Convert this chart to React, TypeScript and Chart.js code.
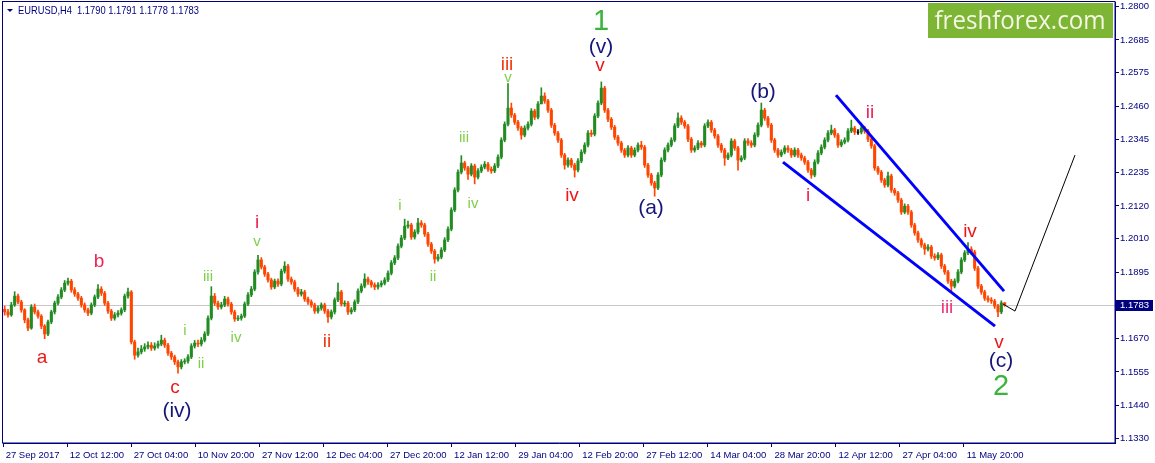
import { useEffect, useRef } from 'react'
import Chart from 'chart.js/auto'

// EURUSD H4, one bar per ~3.3px of the original screenshot
const firstOpen = 1.1768
const closes = [
  1.1759, 1.1749, 1.1783, 1.1813, 1.1793, 1.1766, 1.1732, 1.1704, 1.1776, 1.1759,
  1.1745, 1.1711, 1.1684, 1.1725, 1.1759, 1.1789, 1.181, 1.1834, 1.1857, 1.1864,
  1.1834, 1.182, 1.1806, 1.1783, 1.1766, 1.1755, 1.1783, 1.181, 1.1837, 1.1823,
  1.1789, 1.1762, 1.1738, 1.1749, 1.1755, 1.1766, 1.1813, 1.1827, 1.1657, 1.1612,
  1.1623, 1.1633, 1.164, 1.1646, 1.1636, 1.1643, 1.165, 1.1663, 1.1646, 1.1619,
  1.1606, 1.1589, 1.1572, 1.1589, 1.1592, 1.1606, 1.1643, 1.1653, 1.165, 1.1663,
  1.1684, 1.1738, 1.1813, 1.1789, 1.1776, 1.1783, 1.1803, 1.1786, 1.1759, 1.1735,
  1.1738, 1.1745, 1.1786, 1.1817, 1.1837, 1.1895, 1.1936, 1.1912, 1.1888, 1.1868,
  1.1844, 1.1864, 1.1854, 1.1898, 1.1915, 1.1871, 1.1861, 1.1837, 1.182, 1.1827,
  1.1803, 1.1793, 1.1783, 1.1762, 1.1772, 1.1783, 1.1762, 1.1742, 1.1759, 1.18,
  1.1827, 1.1786, 1.1789, 1.1759, 1.1766, 1.1793, 1.183, 1.1847, 1.1871, 1.1861,
  1.1851, 1.1844, 1.1851, 1.1857, 1.1868, 1.1891, 1.1926, 1.1943, 1.1983, 1.2011,
  1.2051, 1.2055, 1.2014, 1.2031, 1.2062, 1.2055, 1.2024, 1.199, 1.1966, 1.1939,
  1.1946, 1.197, 1.2004, 1.2041, 1.2106, 1.2174, 1.2235, 1.2266, 1.2249, 1.2228,
  1.2256, 1.2218, 1.2239, 1.2252, 1.2262, 1.2245, 1.2239, 1.2256, 1.2286, 1.2344,
  1.2398, 1.2453, 1.2429, 1.2405, 1.2385, 1.2361, 1.2385, 1.2398, 1.2443, 1.2422,
  1.2467, 1.2494, 1.2477, 1.2446, 1.2395, 1.2368, 1.2344, 1.2293, 1.2259, 1.2276,
  1.2259, 1.2242, 1.2273, 1.2303, 1.2327, 1.2368, 1.2364, 1.2426, 1.247, 1.2521,
  1.2446, 1.2415, 1.2388, 1.2354, 1.2334, 1.231, 1.2293, 1.2317, 1.2293, 1.231,
  1.2327, 1.232, 1.2259, 1.2225, 1.2198, 1.2181, 1.2225, 1.2276, 1.231, 1.2327,
  1.2344, 1.2392, 1.2419, 1.2405, 1.2392, 1.2347, 1.231, 1.2317, 1.2334, 1.2327,
  1.2392, 1.2405, 1.2378, 1.2358, 1.2327, 1.231, 1.2283, 1.2293, 1.2341, 1.2317,
  1.2276, 1.2283, 1.2341, 1.2334, 1.2327, 1.2361, 1.2395, 1.2446, 1.2419, 1.2395,
  1.2344, 1.231, 1.2293, 1.2303, 1.2317, 1.231, 1.2293, 1.231, 1.2293, 1.2283,
  1.2269, 1.2242, 1.2225, 1.2269, 1.23, 1.232, 1.2344, 1.2368, 1.2378, 1.2361,
  1.2327, 1.2337, 1.2344, 1.2375, 1.2385, 1.2371, 1.2371, 1.2385, 1.2375, 1.2347,
  1.2324, 1.2249, 1.2235, 1.2208, 1.2191, 1.2222, 1.2174, 1.2164, 1.214, 1.2099,
  1.2119, 1.2099, 1.2055, 1.2028, 1.2004, 1.1987, 1.1973, 1.198, 1.1949, 1.1943,
  1.1953, 1.1915, 1.1895, 1.1864, 1.1847, 1.1864, 1.1895, 1.1936, 1.196, 1.1973,
  1.1963, 1.1908, 1.1847, 1.1827, 1.1806, 1.18, 1.1796, 1.1779, 1.1759, 1.179,
  1.1783,
]
const highs = [
  1.1779, 1.1768, 1.1792, 1.1828, 1.182, 1.1799, 1.177, 1.1738, 1.1784, 1.1786,
  1.1765, 1.175, 1.1716, 1.1731, 1.1765, 1.1796, 1.1818, 1.1842, 1.1866, 1.1874,
  1.187, 1.1842, 1.1826, 1.1812, 1.179, 1.1772, 1.179, 1.1817, 1.1852, 1.1845,
  1.1829, 1.1795, 1.1768, 1.1757, 1.1764, 1.1773, 1.182, 1.184, 1.1832, 1.1663,
  1.1636, 1.1645, 1.1651, 1.1657, 1.1655, 1.1654, 1.166, 1.168, 1.167, 1.1652,
  1.1625, 1.1612, 1.1595, 1.1597, 1.16, 1.1614, 1.1651, 1.1662, 1.1663, 1.1672,
  1.1692, 1.1746, 1.1845, 1.1822, 1.1796, 1.1792, 1.1812, 1.181, 1.1792, 1.1765,
  1.1747, 1.1752, 1.1793, 1.1825, 1.1846, 1.1903, 1.1952, 1.1944, 1.1918, 1.1894,
  1.1874, 1.1871, 1.1872, 1.1905, 1.193, 1.1921, 1.1878, 1.1867, 1.1843, 1.1836,
  1.1833, 1.181, 1.18, 1.1789, 1.178, 1.179, 1.1789, 1.1768, 1.1766, 1.1807,
  1.1857, 1.1833, 1.1797, 1.1795, 1.1774, 1.18, 1.1838, 1.1855, 1.1889, 1.1878,
  1.1867, 1.1858, 1.1859, 1.1865, 1.1876, 1.1899, 1.1934, 1.1951, 1.1991, 1.202,
  1.2075, 1.2068, 1.2061, 1.2039, 1.2078, 1.207, 1.2061, 1.203, 1.1996, 1.1972,
  1.1955, 1.1978, 1.2012, 1.2049, 1.2114, 1.2182, 1.2243, 1.2291, 1.2272, 1.2255,
  1.2264, 1.2262, 1.2247, 1.226, 1.2271, 1.2268, 1.2253, 1.2264, 1.2294, 1.2352,
  1.2406, 1.2536, 1.247, 1.2435, 1.2411, 1.2391, 1.2393, 1.2406, 1.2451, 1.2449,
  1.2475, 1.2522, 1.2505, 1.2483, 1.2452, 1.2401, 1.2374, 1.235, 1.2299, 1.2284,
  1.2282, 1.2265, 1.2281, 1.2311, 1.2335, 1.2376, 1.2378, 1.2434, 1.2478, 1.2542,
  1.2527, 1.2452, 1.2421, 1.2394, 1.236, 1.234, 1.2316, 1.2325, 1.2323, 1.2318,
  1.2335, 1.234, 1.2326, 1.2265, 1.2231, 1.2204, 1.2233, 1.2284, 1.2318, 1.2335,
  1.2352, 1.24, 1.2437, 1.2427, 1.2411, 1.2398, 1.2353, 1.2325, 1.2342, 1.234,
  1.24, 1.2413, 1.2411, 1.2384, 1.2364, 1.2333, 1.2316, 1.2301, 1.2349, 1.2347,
  1.2323, 1.2291, 1.2349, 1.2349, 1.2342, 1.2369, 1.2403, 1.247, 1.2452, 1.2425,
  1.2401, 1.235, 1.2316, 1.2311, 1.2325, 1.2325, 1.2316, 1.2318, 1.2316, 1.23,
  1.2289, 1.2275, 1.2248, 1.2277, 1.2308, 1.2328, 1.2352, 1.2376, 1.2395, 1.2384,
  1.2367, 1.2345, 1.2352, 1.2383, 1.2412, 1.2391, 1.238, 1.2402, 1.2391, 1.2381,
  1.2353, 1.233, 1.2255, 1.2241, 1.2214, 1.2235, 1.2228, 1.218, 1.217, 1.2146,
  1.2127, 1.2125, 1.2105, 1.2061, 1.2034, 1.201, 1.1993, 1.1988, 1.1986, 1.1957,
  1.1961, 1.1959, 1.1921, 1.1901, 1.187, 1.1872, 1.1903, 1.1944, 1.1968, 1.1995,
  1.1981, 1.1969, 1.1914, 1.1853, 1.1833, 1.1814, 1.1808, 1.1802, 1.1785, 1.1797,
  1.1791,
]
const lows = [
  1.1748, 1.1741, 1.1744, 1.1778, 1.1786, 1.1758, 1.1722, 1.1695, 1.17, 1.1752,
  1.1738, 1.1702, 1.1668, 1.1678, 1.1719, 1.1752, 1.1783, 1.1804, 1.1828, 1.185,
  1.1826, 1.1812, 1.1798, 1.1775, 1.1758, 1.1746, 1.1749, 1.1777, 1.1804, 1.1815,
  1.1781, 1.1754, 1.173, 1.1731, 1.1742, 1.1748, 1.176, 1.1806, 1.165, 1.1598,
  1.1605, 1.1616, 1.1625, 1.1633, 1.1628, 1.1629, 1.1636, 1.1644, 1.1638, 1.1611,
  1.1597, 1.158, 1.1551, 1.1565, 1.1582, 1.1585, 1.16, 1.1636, 1.1641, 1.1643,
  1.1657, 1.1678, 1.1732, 1.1781, 1.1768, 1.1769, 1.1777, 1.1779, 1.1751, 1.1727,
  1.1729, 1.1731, 1.174, 1.178, 1.1811, 1.1831, 1.1888, 1.1905, 1.188, 1.186,
  1.1836, 1.1838, 1.1846, 1.1848, 1.1891, 1.1863, 1.1853, 1.1829, 1.1812, 1.1813,
  1.1795, 1.1785, 1.1775, 1.1754, 1.1755, 1.1765, 1.1754, 1.1723, 1.1735, 1.1752,
  1.1794, 1.1779, 1.1778, 1.1751, 1.1752, 1.176, 1.1787, 1.1824, 1.1841, 1.1853,
  1.1843, 1.1835, 1.1837, 1.1844, 1.1851, 1.1862, 1.1885, 1.192, 1.1937, 1.1977,
  1.2005, 1.2044, 1.2006, 1.2007, 1.2025, 1.2047, 1.2016, 1.1982, 1.1958, 1.1925,
  1.1932, 1.194, 1.1964, 1.1998, 1.2035, 1.21, 1.2168, 1.2229, 1.2241, 1.221,
  1.2222, 1.2195, 1.2212, 1.2233, 1.2246, 1.2237, 1.2231, 1.2233, 1.225, 1.228,
  1.2338, 1.2392, 1.2421, 1.2397, 1.2377, 1.2347, 1.2355, 1.2379, 1.2392, 1.2414,
  1.2416, 1.2488, 1.2469, 1.2438, 1.2387, 1.236, 1.2336, 1.2285, 1.2245, 1.2252,
  1.2251, 1.2218, 1.2236, 1.2267, 1.2297, 1.2321, 1.2356, 1.2358, 1.242, 1.2464,
  1.2438, 1.2407, 1.238, 1.2346, 1.2326, 1.2302, 1.2285, 1.2287, 1.2285, 1.2287,
  1.2304, 1.2312, 1.2251, 1.2217, 1.219, 1.2153, 1.2175, 1.2219, 1.227, 1.2304,
  1.2321, 1.2338, 1.2386, 1.2397, 1.2384, 1.2339, 1.2302, 1.2303, 1.2311, 1.2319,
  1.2321, 1.2386, 1.237, 1.235, 1.2319, 1.2302, 1.2258, 1.2277, 1.2287, 1.2309,
  1.2242, 1.227, 1.2277, 1.2326, 1.2319, 1.2321, 1.2355, 1.2389, 1.2411, 1.2387,
  1.2336, 1.2302, 1.2285, 1.2287, 1.2297, 1.2302, 1.2285, 1.2287, 1.2285, 1.2275,
  1.2261, 1.2234, 1.2214, 1.2219, 1.2263, 1.2294, 1.2314, 1.2338, 1.2362, 1.2353,
  1.2319, 1.2321, 1.2331, 1.2338, 1.2369, 1.2363, 1.2363, 1.2365, 1.2367, 1.2339,
  1.2316, 1.2241, 1.2227, 1.22, 1.2183, 1.2185, 1.2166, 1.2156, 1.2132, 1.2091,
  1.2093, 1.2091, 1.2047, 1.202, 1.1996, 1.1979, 1.1955, 1.1967, 1.1941, 1.1935,
  1.1937, 1.1907, 1.1887, 1.1856, 1.183, 1.1841, 1.1858, 1.1889, 1.193, 1.1954,
  1.1955, 1.19, 1.1839, 1.1819, 1.1798, 1.1792, 1.1788, 1.1771, 1.1743, 1.1753,
  1.1778,
]
const totalSlots = 333.6 // bars that fit the window, incl. empty space on the right

const dateLabels = [
  '27 Sep 2017', '12 Oct 12:00', '27 Oct 04:00', '10 Nov 20:00', '27 Nov 12:00',
  '12 Dec 04:00', '27 Dec 20:00', '12 Jan 12:00', '29 Jan 04:00', '12 Feb 20:00',
  '27 Feb 12:00', '14 Mar 04:00', '28 Mar 20:00', '12 Apr 12:00', '27 Apr 04:00',
  '11 May 20:00',
]
const labelStep = 19.22 // bars between date labels
const priceTicks = [
  1.28, 1.2685, 1.2575, 1.246, 1.2345, 1.2235, 1.212, 1.201, 1.1895,
  1.167, 1.1555, 1.144, 1.133,
]
const priceMin = 1.1313
const priceMax = 1.2814
const lastPrice = 1.1783
const headerText = 'EURUSD,H4  1.1790 1.1791 1.1778 1.1783'
const logoText = 'freshforex.com'

// analyst drawings: [bar, price]
const upperChannel = [{ x: 249.4, y: 1.2497 }, { x: 299.8, y: 1.183 }]
const lowerChannel = [{ x: 233.5, y: 1.2269 }, { x: 297.1, y: 1.1711 }]
const projection = [{ x: 299.5, y: 1.1786 }, { x: 303.1, y: 1.1762 }, { x: 321.1, y: 1.2293 }]

const red = '#EC1818'
const crimson = '#EE2456'
const orangeRed = '#F2380E'
const pink = '#F0347C'
const lime = '#7ED04A'
const navy = '#16167A'
const green = '#3BB43B'

// [text, bar, price at baseline, colour, font px]
const waveLabels: [string, number, number, string, number][] = [
  ['a', 11.2, 1.1585, red, 19],
  ['b', 28.3, 1.1912, crimson, 19],
  ['c', 51.1, 1.1483, red, 19],
  ['(iv)', 51.7, 1.1401, navy, 21],
  ['i', 54.1, 1.1681, lime, 15],
  ['ii', 58.9, 1.1568, lime, 15],
  ['iii', 61.0, 1.1864, lime, 15],
  ['iv', 69.4, 1.1657, lime, 15],
  ['v', 75.7, 1.1983, lime, 15],
  ['i', 75.7, 1.2045, crimson, 19],
  ['ii', 96.7, 1.164, orangeRed, 19],
  ['i', 118.6, 1.2106, lime, 15],
  ['ii', 128.5, 1.1864, lime, 15],
  ['iii', 137.8, 1.2337, lime, 15],
  ['iv', 140.5, 1.2113, lime, 15],
  ['iii', 150.7, 1.2582, orangeRed, 19],
  ['v', 151.0, 1.2541, lime, 15],
  ['iv', 170.2, 1.2136, red, 19],
  ['v', 178.6, 1.2579, red, 19],
  ['(v)', 178.9, 1.264, navy, 21],
  ['1', 178.9, 1.2718, green, 29],
  ['(a)', 193.9, 1.2094, navy, 21],
  ['(b)', 227.5, 1.2487, navy, 21],
  ['i', 241.0, 1.2136, crimson, 19],
  ['ii', 259.6, 1.2419, crimson, 19],
  ['iii', 282.7, 1.1755, pink, 19],
  ['iv', 289.6, 1.2014, red, 19],
  ['v', 298.3, 1.1636, red, 19],
  ['(c)', 298.9, 1.1572, navy, 21],
  ['2', 298.9, 1.1476, green, 29],
]

const axisColor = '#000080'
const bullColor = '#228B22'
const bearColor = '#FF4500'
const dojiColor = '#000000'
const uiFont = '"Liberation Sans", Arial, sans-serif'

export default function App() {
  const canvasRef = useRef<HTMLCanvasElement>(null)
  const chartRef = useRef<Chart | null>(null)

  useEffect(() => {
    if (!canvasRef.current) return
    if (chartRef.current) chartRef.current.destroy()

    const opens = closes.map((_, i) => (i === 0 ? firstOpen : closes[i - 1]))
    const colors = closes.map((c, i) => (c > opens[i] ? bullColor : c < opens[i] ? bearColor : dojiColor))

    const overlay = {
      id: 'mtOverlay',
      beforeDatasetsDraw(chart: any) {
        const { ctx, chartArea: a, scales } = chart
        const py = Math.round(scales.y.getPixelForValue(lastPrice)) + 0.5
        ctx.save()
        ctx.strokeStyle = '#C8C8C8'
        ctx.lineWidth = 1
        ctx.beginPath()
        ctx.moveTo(a.left, py)
        ctx.lineTo(a.right, py)
        ctx.stroke()
        ctx.restore()
      },
      afterDraw(chart: any) {
        const { ctx, chartArea: a, scales } = chart
        const { x, y } = scales
        ctx.save()

        // frame
        ctx.strokeStyle = axisColor
        ctx.lineWidth = 1
        ctx.strokeRect(Math.round(a.left) - 0.5, Math.round(a.top) - 0.5, Math.round(a.right - a.left) + 0.5, Math.round(a.bottom - a.top) + 0.5)

        // wave labels
        ctx.textAlign = 'center'
        ctx.textBaseline = 'alphabetic'
        for (const [text, bar, price, color, size] of waveLabels) {
          ctx.font = `${size}px ${uiFont}`
          ctx.fillStyle = color
          ctx.fillText(text, x.getPixelForValue(bar), y.getPixelForValue(price))
        }

        // logo
        ctx.fillStyle = '#7DB534'
        ctx.fillRect(a.right - 187, a.top + 1, 185, 35)
        ctx.fillStyle = '#F6F6E4'
        ctx.font = '25px "Open Sans", sans-serif'
        ctx.fillText(logoText, a.right - 95, a.top + 27, 171)

        // header
        ctx.fillStyle = axisColor
        ctx.beginPath()
        ctx.moveTo(a.left + 4, a.top + 7)
        ctx.lineTo(a.left + 10, a.top + 7)
        ctx.lineTo(a.left + 7, a.top + 10)
        ctx.closePath()
        ctx.fill()
        ctx.textAlign = 'left'
        ctx.font = `10.5px ${uiFont}`
        ctx.fillText(headerText, a.left + 15, a.top + 12, 181)

        // current price tag
        const py = Math.round(y.getPixelForValue(lastPrice))
        ctx.fillStyle = axisColor
        ctx.fillRect(a.right + 1, py - 5, 37, 11)
        ctx.fillStyle = '#FFFFFF'
        ctx.font = `9.5px ${uiFont}`
        ctx.textBaseline = 'middle'
        ctx.fillText(lastPrice.toFixed(4), a.right + 5, py + 0.5)
        ctx.restore()
      },
    }

    chartRef.current = new Chart(canvasRef.current, {
      type: 'bar',
      data: {
        datasets: [
          { type: 'line', data: upperChannel, borderColor: '#0000FF', borderWidth: 3, pointRadius: 0, fill: false, order: 0 },
          { type: 'line', data: lowerChannel, borderColor: '#0000FF', borderWidth: 3, pointRadius: 0, fill: false, order: 0 },
          { type: 'line', data: projection, borderColor: '#000000', borderWidth: 1, pointRadius: 0, fill: false, order: 0 },
          {
            data: closes.map((c, i) => ({ x: i, y: [opens[i], c] })),
            backgroundColor: colors,
            barThickness: 2.4,
            grouped: false,
            order: 1,
          },
          {
            data: closes.map((_, i) => ({ x: i, y: [lows[i], highs[i]] })),
            backgroundColor: colors,
            barThickness: 1,
            grouped: false,
            order: 2,
          },
        ] as any,
      },
      options: {
        animation: false,
        responsive: true,
        maintainAspectRatio: false,
        events: [],
        layout: { padding: { left: 3, top: 2, right: 0, bottom: 0 } },
        plugins: { legend: { display: false }, tooltip: { enabled: false } },
        scales: {
          x: {
            type: 'linear',
            min: -0.5,
            max: totalSlots - 0.5,
            offset: false,
            afterBuildTicks: (s: any) => {
              s.ticks = dateLabels.map((_, k) => ({ value: k * labelStep - 0.5 }))
            },
            afterFit: (s: any) => {
              s.height = 20
              s.paddingLeft = 0
              s.paddingRight = 0
            },
            grid: { drawOnChartArea: false, offset: false, tickLength: 4, color: axisColor },
            border: { color: axisColor },
            ticks: {
              autoSkip: false,
              maxRotation: 0,
              align: 'start',
              padding: 3,
              color: axisColor,
              font: { family: uiFont, size: 9.5 },
              callback: (_v: any, idx: number) => ' ' + dateLabels[idx],
            },
          },
          y: {
            type: 'linear',
            position: 'right',
            min: priceMin,
            max: priceMax,
            afterBuildTicks: (s: any) => {
              s.ticks = priceTicks.map((v) => ({ value: v }))
            },
            afterFit: (s: any) => {
              s.width = 40
              s.paddingTop = 0
              s.paddingBottom = 0
            },
            grid: { drawOnChartArea: false, tickLength: 4, color: axisColor },
            border: { color: axisColor },
            ticks: {
              padding: 1,
              color: axisColor,
              font: { family: uiFont, size: 9.5 },
              callback: (v: any) => Number(v).toFixed(4),
            },
          },
        },
      } as any,
      plugins: [overlay],
    })

    return () => {
      if (chartRef.current) {
        chartRef.current.destroy()
        chartRef.current = null
      }
    }
  }, [])

  return (
    <div style={{ position: 'fixed', left: 0, top: 0, width: 1155, height: 463, background: '#FFFFFF' }}>
      <canvas ref={canvasRef} />
    </div>
  )
}
